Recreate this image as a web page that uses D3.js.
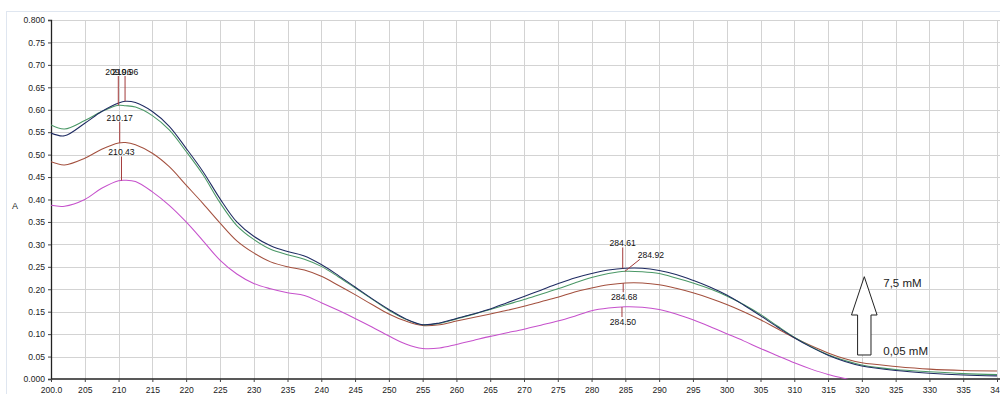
<!DOCTYPE html>
<html>
<head>
<meta charset="utf-8">
<script src="https://cdn.jsdelivr.net/npm/d3@7"></script>
<style>
  html, body { margin: 0; padding: 0; background: #fff; }
  svg { display: block; }
  text { font-family: "Liberation Sans", Arial, sans-serif; }
</style>
</head>
<body>
<svg id="chart" width="1000" height="394"></svg>
<script>
// Wavelength grid (nm) shared by every spectrum
const wavelengths = [200, 202, 205, 207.5, 210, 211, 212.5, 215, 217.5, 220, 222.5, 225, 227.5, 230, 232.5,
  235, 237.5, 240, 242.5, 245, 247.5, 250, 252.5, 255, 257.5, 260, 262.5, 265, 267.5, 270, 272.5, 275,
  277.5, 280, 282.5, 285, 287.5, 290, 292.5, 295, 297.5, 300, 302.5, 305, 307.5, 310, 312.5, 315, 317.5,
  320, 325, 330, 335, 340];

// Absorbance spectra
const absNavy = [0.548, 0.542, 0.570, 0.596, 0.615, 0.619, 0.616, 0.596, 0.563, 0.514, 0.462, 0.402, 0.350, 0.318, 0.297,
  0.284, 0.274, 0.255, 0.231, 0.205, 0.179, 0.155, 0.134, 0.121, 0.125, 0.135, 0.145, 0.156, 0.170, 0.184, 0.198, 0.212,
  0.225, 0.235, 0.243, 0.247, 0.247, 0.242, 0.233, 0.220, 0.205, 0.187, 0.165, 0.141, 0.116, 0.092, 0.071, 0.053, 0.039,
  0.029, 0.019, 0.013, 0.009, 0.007];
const absGreen = [0.566, 0.557, 0.576, 0.596, 0.610, 0.609, 0.606, 0.587, 0.555, 0.507, 0.455, 0.393, 0.342, 0.311, 0.289,
  0.277, 0.267, 0.251, 0.228, 0.203, 0.178, 0.153, 0.133, 0.121, 0.124, 0.134, 0.144, 0.155, 0.166, 0.177, 0.189, 0.201,
  0.214, 0.226, 0.235, 0.240, 0.239, 0.235, 0.225, 0.214, 0.201, 0.185, 0.166, 0.144, 0.118, 0.093, 0.072, 0.054, 0.041,
  0.031, 0.021, 0.016, 0.012, 0.010];
const absBrown = [0.484, 0.477, 0.492, 0.512, 0.526, 0.527, 0.522, 0.503, 0.473, 0.432, 0.391, 0.348, 0.308, 0.281, 0.261,
  0.250, 0.243, 0.229, 0.209, 0.188, 0.166, 0.145, 0.129, 0.119, 0.121, 0.129, 0.137, 0.145, 0.153, 0.162, 0.172, 0.182,
  0.194, 0.203, 0.210, 0.214, 0.214, 0.210, 0.202, 0.192, 0.180, 0.166, 0.150, 0.132, 0.112, 0.092, 0.074, 0.058, 0.045,
  0.036, 0.028, 0.022, 0.019, 0.018];
const absMagenta = [0.387, 0.385, 0.400, 0.425, 0.442, 0.443, 0.440, 0.417, 0.387, 0.350, 0.308, 0.265, 0.234, 0.213, 0.201,
  0.192, 0.186, 0.170, 0.153, 0.135, 0.116, 0.096, 0.078, 0.068, 0.069, 0.077, 0.086, 0.095, 0.103, 0.111, 0.120, 0.129,
  0.140, 0.152, 0.158, 0.161, 0.160, 0.155, 0.145, 0.132, 0.117, 0.101, 0.085, 0.068, 0.052, 0.036, 0.022, 0.010, 0.001,
  -0.008, -0.020, -0.028, -0.033, -0.036];

const seriesColors = ["#1f2b62", "#4a9866", "#a3503e", "#c651cc"];
const seriesValues = [absNavy, absGreen, absBrown, absMagenta];

// Peak wavelengths picked on each spectrum
const peaksUV = [210.96, 209.96, 210.17, 210.43];
const peaksVis = [284.61, 284.92, 284.68, 284.50];

const xTickValues = d3.range(200, 341, 5);
const xTickLabels = ["200.0", "205", "210", "215", "220", "225", "230", "235", "240", "245", "250", "255", "260", "265",
  "270", "275", "280", "285", "290", "295", "300", "305", "310", "315", "320", "325", "330", "335", "340"];
const yTickValues = d3.range(0, 17).map(i => i * 0.05);
const yTickLabels = ["0.000", "0.05", "0.10", "0.15", "0.20", "0.25", "0.30", "0.35", "0.40", "0.45", "0.50", "0.55",
  "0.60", "0.65", "0.70", "0.75", "0.800"];

const concLabels = ["7,5 mM", "0,05 mM"];

const svg = d3.select("#chart");
const x = d3.scaleLinear().domain([200, 340]).range([51, 997]);
const y = d3.scaleLinear().domain([0, 0.8]).range([379, 20]);

// outer frame
svg.append("rect").attr("x", 6.5).attr("y", 11.5).attr("width", 1000).attr("height", 400)
  .attr("fill", "#fff").attr("stroke", "#dfe6f0");

// grid
const grid = svg.append("g").attr("stroke", "#d3d3d3").attr("stroke-width", 1);
xTickValues.slice(1).forEach(v => {
  grid.append("line").attr("x1", Math.round(x(v)) + 0.5).attr("x2", Math.round(x(v)) + 0.5)
    .attr("y1", y(0.8)).attr("y2", y(0));
});
yTickValues.slice(1).forEach(v => {
  grid.append("line").attr("y1", Math.round(y(v)) + 0.5).attr("y2", Math.round(y(v)) + 0.5)
    .attr("x1", x(200)).attr("x2", 1000);
});

// axes
const yAxis = svg.append("g").attr("transform", `translate(${x(200)},0)`)
  .call(d3.axisLeft(y).tickValues(yTickValues).tickSize(3).tickPadding(3)
    .tickFormat((d, i) => yTickLabels[i]));
const xAxis = svg.append("g").attr("transform", `translate(0,${y(0)})`)
  .call(d3.axisBottom(x).tickValues(xTickValues).tickSize(3).tickPadding(5)
    .tickFormat((d, i) => xTickLabels[i]));
[yAxis, xAxis].forEach(a => {
  a.select(".domain").attr("stroke", "#222").attr("stroke-width", 1.3);
  a.selectAll(".tick line").attr("stroke", "#444");
  a.selectAll("text").attr("font-size", 8.6).attr("fill", "#222")
    .attr("font-family", "'Liberation Sans', Arial, sans-serif");
});
xAxis.select(".domain").attr("d", `M${x(200)},0H1000`);

svg.append("text").attr("x", 15).attr("y", 209).attr("text-anchor", "middle")
  .attr("font-size", 9).attr("fill", "#222").text("A");

// spectra
svg.append("clipPath").attr("id", "plotclip").append("rect")
  .attr("x", x(200)).attr("y", y(0.8)).attr("width", 1000 - x(200)).attr("height", y(0) - y(0.8));

const line = d3.line().x(d => x(d[0])).y(d => y(d[1])).curve(d3.curveCatmullRom.alpha(0.5));
const curves = svg.append("g").attr("clip-path", "url(#plotclip)");
// drawn from lowest to highest so the darker traces sit on top
[3, 2, 1, 0].forEach(s => {
  curves.append("path")
    .datum(wavelengths.map((w, i) => [w, seriesValues[s][i]]))
    .attr("fill", "none").attr("stroke", seriesColors[s]).attr("stroke-width", 1.05)
    .attr("d", line);
});

// peak annotations
const interp = (vals, w) => {
  const i = d3.bisectRight(wavelengths, w) - 1;
  const t = (w - wavelengths[i]) / (wavelengths[i + 1] - wavelengths[i]);
  return vals[i] + t * (vals[i + 1] - vals[i]);
};
const leaderColor = "#a33a3a";
const ann = svg.append("g");
const fmt = d3.format(".2f");

// UV band: the two upper traces share a label row, the lower two sit just above their peak
const uvPlace = [
  { ty: 72 },
  { ty: 72 },
  { ty: null, dy: -25 },
  { ty: null, dy: -28 }
];
peaksUV.forEach((w, s) => {
  const px = x(w), py = y(interp(seriesValues[s], w));
  const p = uvPlace[s];
  const ty = p.ty !== null ? p.ty : py + p.dy;
  ann.append("line").attr("x1", px).attr("x2", px).attr("y1", py).attr("y2", ty + 4)
    .attr("stroke", leaderColor).attr("stroke-width", 1);
  ann.append("text").attr("x", px).attr("y", ty + 3).attr("text-anchor", "middle")
    .attr("font-size", 8.6).attr("fill", "#111").text(fmt(w));
});

// second band: label offsets and leader ends relative to each peak
const visPlace = [
  { tx: 0, ty: -25, ex: 0, ey: -21 },
  { tx: 26, ty: -16, ex: 15, ey: -12 },
  { tx: 1, ty: 14, ex: 0, ey: 9 },
  { tx: 1, ty: 15, ex: 0, ey: 10 }
];
peaksVis.forEach((w, s) => {
  const px = x(w), py = y(interp(seriesValues[s], w));
  const p = visPlace[s];
  ann.append("line").attr("x1", px).attr("y1", py).attr("x2", px + p.ex).attr("y2", py + p.ey)
    .attr("stroke", leaderColor).attr("stroke-width", 1);
  ann.append("text").attr("x", px + p.tx).attr("y", py + p.ty + 3).attr("text-anchor", "middle")
    .attr("font-size", 8.6).attr("fill", "#111").text(fmt(w));
});

// concentration arrow
const ax = x(320.36);
const tipY = y(0.228), baseY = y(0.1426), tailY = y(0.0535);
const headHalf = 12.8, shaftHalf = 6.7;
svg.append("path")
  .attr("d", `M${ax},${tipY} L${ax + headHalf},${baseY} L${ax + shaftHalf},${baseY} L${ax + shaftHalf},${tailY}
              L${ax - shaftHalf},${tailY} L${ax - shaftHalf},${baseY} L${ax - headHalf},${baseY} Z`)
  .attr("fill", "#fff").attr("stroke", "#222").attr("stroke-width", 1);
svg.append("text").attr("x", ax + 19).attr("y", tipY + 10.5).attr("font-size", 11.5).attr("fill", "#222")
  .text(concLabels[0]);
svg.append("text").attr("x", ax + 19).attr("y", tailY).attr("font-size", 11.5).attr("fill", "#222")
  .text(concLabels[1]);
</script>
</body>
</html>
